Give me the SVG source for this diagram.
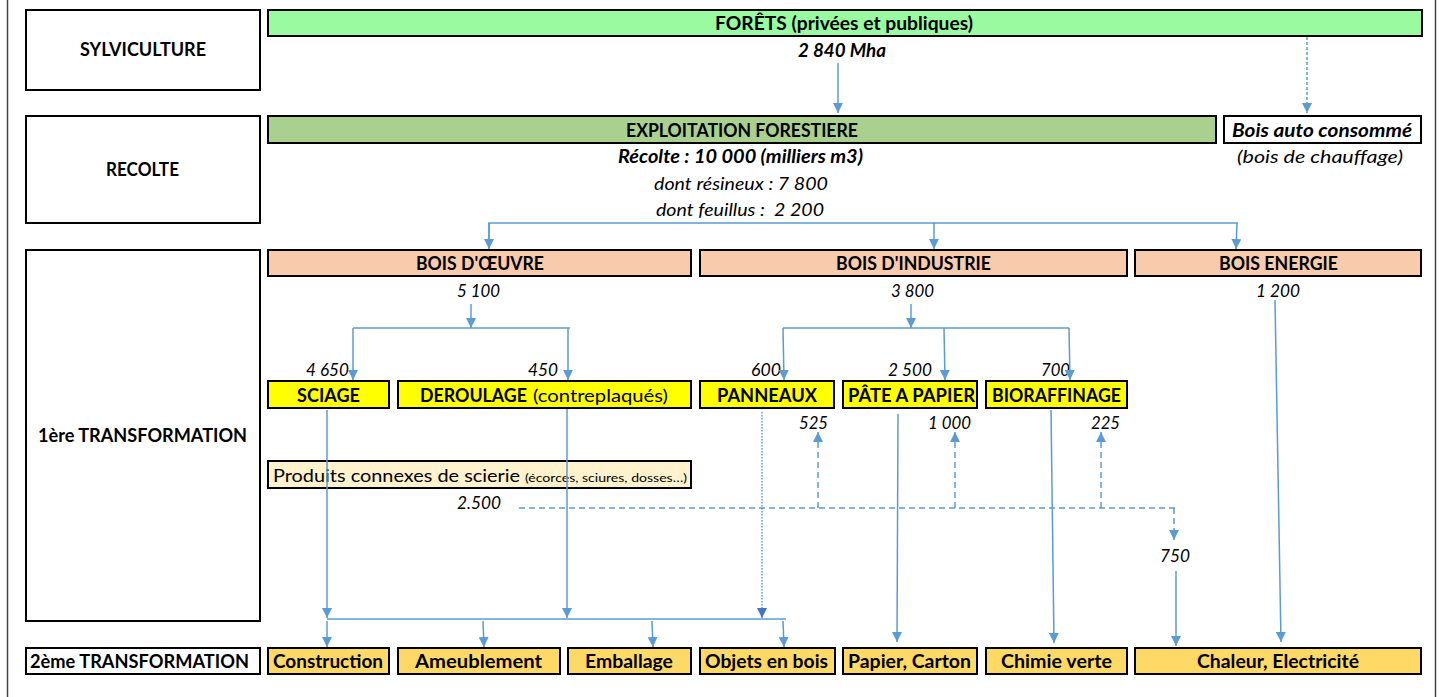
<svg xmlns="http://www.w3.org/2000/svg" width="1442" height="697" viewBox="0 0 1442 697">
<style>
text{font-family:Lato,"Open Sans","Liberation Sans",sans-serif;fill:#000;font-size:18px;}
.b{font-weight:bold;}
.bi{font-weight:bold;font-style:italic;}
.i{font-style:italic;}
.s{font-size:11px;}
.box{stroke:#000;stroke-width:2;}
.w{fill:#fff;}
.g1{fill:#99FA9F;}
.g2{fill:#A9D08E;}
.o{fill:#F8CBAD;}
.y{fill:#FFFF00;}
.c{fill:#FFF2CC;}
.d{fill:#FFD966;}
.ln{stroke:#5B9BD5;stroke-width:1.5;fill:none;}
.ar{marker-end:url(#ah);}
.da{stroke-dasharray:6 4;}
.dt{stroke-dasharray:1.5 1.5;}
</style>
<defs>
<marker id="ah" markerUnits="userSpaceOnUse" markerWidth="11" markerHeight="10" refX="10" refY="5" orient="auto"><path d="M0,0 L10,5 L0,10 z" fill="#5B9BD5"/></marker>
<marker id="ah2" markerUnits="userSpaceOnUse" markerWidth="11" markerHeight="10" refX="10" refY="5" orient="auto"><path d="M0,0 L10,5 L0,10 z" fill="#4472C4"/></marker>
</defs>
<rect width="1442" height="697" fill="#fff"/>
<line x1="7.5" y1="0" x2="7.5" y2="697" stroke="#444" stroke-width="1.5"/>
<line x1="1435.5" y1="0" x2="1435.5" y2="697" stroke="#444" stroke-width="1.5"/>

<g id="lbl-sylviculture"><rect class="box w" x="26" y="10" width="234" height="80"/><text class="b" x="80" y="56" textLength="126" lengthAdjust="spacingAndGlyphs">SYLVICULTURE</text></g>
<g id="lbl-recolte"><rect class="box w" x="26" y="116" width="234" height="107"/><text class="b" x="106" y="176" textLength="73" lengthAdjust="spacingAndGlyphs">RECOLTE</text></g>
<g id="lbl-1ere"><rect class="box w" x="26" y="250" width="234" height="371"/><text class="b" x="38" y="442" textLength="209" lengthAdjust="spacingAndGlyphs">1ère TRANSFORMATION</text></g>
<g id="lbl-2eme"><rect class="box w" x="26" y="648" width="234" height="26"/><text class="b" x="30" y="668" textLength="219" lengthAdjust="spacingAndGlyphs">2ème TRANSFORMATION</text></g>

<g id="forets"><rect class="box g1" x="268" y="10" width="1154" height="26"/><text class="b" x="715" y="30" textLength="258" lengthAdjust="spacingAndGlyphs">FORÊTS (privées et publiques)</text><text class="bi" x="798" y="57" textLength="88" lengthAdjust="spacingAndGlyphs">2 840 Mha</text></g>
<g id="exploitation"><rect class="box g2" x="268" y="116" width="948" height="27"/><text class="b" x="626" y="137" textLength="232" lengthAdjust="spacingAndGlyphs">EXPLOITATION FORESTIERE</text>
<text class="bi" x="618" y="163" textLength="245" lengthAdjust="spacingAndGlyphs">Récolte : 10 000 (milliers m3)</text>
<text class="i" x="654" y="190" textLength="174" lengthAdjust="spacingAndGlyphs">dont résineux : 7 800</text>
<text class="i" x="656" y="216" textLength="168" lengthAdjust="spacingAndGlyphs" xml:space="preserve">dont feuillus :  2 200</text></g>
<g id="bois-auto"><rect class="box w" x="1224" y="116" width="197" height="27"/><text class="bi" x="1232" y="137" textLength="180" lengthAdjust="spacingAndGlyphs">Bois auto consommé</text><text class="i" x="1237" y="163" textLength="166" lengthAdjust="spacingAndGlyphs">(bois de chauffage)</text></g>

<g id="bois-oeuvre"><rect class="box o" x="268" y="250" width="423" height="26"/><text class="b" x="416" y="270" textLength="128" lengthAdjust="spacingAndGlyphs">BOIS D'ŒUVRE</text><text class="i" x="457" y="297" textLength="43" lengthAdjust="spacingAndGlyphs">5 100</text></g>
<g id="bois-industrie"><rect class="box o" x="700" y="250" width="427" height="26"/><text class="b" x="836" y="270" textLength="155" lengthAdjust="spacingAndGlyphs">BOIS D'INDUSTRIE</text><text class="i" x="891" y="297" textLength="43" lengthAdjust="spacingAndGlyphs">3 800</text></g>
<g id="bois-energie"><rect class="box o" x="1135" y="250" width="286" height="26"/><text class="b" x="1219" y="270" textLength="119" lengthAdjust="spacingAndGlyphs">BOIS ENERGIE</text><text class="i" x="1256" y="297" textLength="44" lengthAdjust="spacingAndGlyphs">1 200</text></g>

<g id="sciage"><rect class="box y" x="268" y="381" width="121" height="27"/><text class="b" x="297" y="402" textLength="63" lengthAdjust="spacingAndGlyphs">SCIAGE</text><text class="i" x="306" y="376" textLength="43" lengthAdjust="spacingAndGlyphs">4 650</text></g>
<g id="deroulage"><rect class="box y" x="398" y="381" width="293" height="27"/><text class="b" x="420" y="402" textLength="107" lengthAdjust="spacingAndGlyphs">DEROULAGE</text><text x="533" y="402" textLength="135" lengthAdjust="spacingAndGlyphs">(contreplaqués)</text><text class="i" x="528" y="376" textLength="30" lengthAdjust="spacingAndGlyphs">450</text></g>
<g id="panneaux"><rect class="box y" x="700" y="381" width="134" height="27"/><text class="b" x="717" y="402" textLength="100" lengthAdjust="spacingAndGlyphs">PANNEAUX</text><text class="i" x="751" y="376" textLength="30" lengthAdjust="spacingAndGlyphs">600</text><text class="i" x="799" y="429" textLength="29" lengthAdjust="spacingAndGlyphs">525</text></g>
<g id="pate"><rect class="box y" x="843" y="381" width="134" height="27"/><text class="b" x="848" y="402" textLength="127" lengthAdjust="spacingAndGlyphs">PÂTE A PAPIER</text><text class="i" x="888" y="376" textLength="44" lengthAdjust="spacingAndGlyphs">2 500</text><text class="i" x="928" y="429" textLength="43" lengthAdjust="spacingAndGlyphs">1 000</text></g>
<g id="bioraffinage"><rect class="box y" x="986" y="381" width="141" height="27"/><text class="b" x="992" y="402" textLength="129" lengthAdjust="spacingAndGlyphs">BIORAFFINAGE</text><text class="i" x="1041" y="376" textLength="29" lengthAdjust="spacingAndGlyphs">700</text><text class="i" x="1091" y="429" textLength="29" lengthAdjust="spacingAndGlyphs">225</text></g>

<g id="produits-connexes"><rect class="box c" x="268" y="461" width="423" height="27"/><text x="273" y="482" textLength="247" lengthAdjust="spacingAndGlyphs">Produits connexes de scierie</text><text class="s" x="525" y="482" textLength="162" lengthAdjust="spacingAndGlyphs">(écorces, sciures, dosses…)</text><text class="i" x="457" y="509" textLength="44" lengthAdjust="spacingAndGlyphs">2.500</text></g>
<g id="chaleur-750"><text class="i" x="1160" y="562" textLength="30" lengthAdjust="spacingAndGlyphs">750</text></g>

<g id="construction"><rect class="box d" x="268" y="648" width="121" height="26"/><text class="b" x="273" y="668" textLength="110" lengthAdjust="spacingAndGlyphs">Construction</text></g>
<g id="ameublement"><rect class="box d" x="398" y="648" width="162" height="26"/><text class="b" x="415" y="668" textLength="127" lengthAdjust="spacingAndGlyphs">Ameublement</text></g>
<g id="emballage"><rect class="box d" x="568" y="648" width="123" height="26"/><text class="b" x="585" y="668" textLength="88" lengthAdjust="spacingAndGlyphs">Emballage</text></g>
<g id="objets"><rect class="box d" x="700" y="648" width="135" height="26"/><text class="b" x="705" y="668" textLength="123" lengthAdjust="spacingAndGlyphs">Objets en bois</text></g>
<g id="papier"><rect class="box d" x="843" y="648" width="134" height="26"/><text class="b" x="848" y="668" textLength="123" lengthAdjust="spacingAndGlyphs">Papier, Carton</text></g>
<g id="chimie"><rect class="box d" x="986" y="648" width="141" height="26"/><text class="b" x="1001" y="668" textLength="111" lengthAdjust="spacingAndGlyphs">Chimie verte</text></g>
<g id="chaleur"><rect class="box d" x="1135" y="648" width="286" height="26"/><text class="b" x="1197" y="668" textLength="162" lengthAdjust="spacingAndGlyphs">Chaleur, Electricité</text></g>

<g id="connectors">
<line class="ln ar" x1="838" y1="63" x2="838" y2="113"/>
<line class="ln ar" x1="1307" y1="37" x2="1307" y2="113" stroke-dasharray="3 2"/>
<polyline class="ln" points="489,248 489,223 1238,223"/>
<line class="ln ar" x1="489" y1="223" x2="489" y2="249"/>
<line class="ln ar" x1="934" y1="223" x2="934" y2="249"/>
<line class="ln ar" x1="1237" y1="223" x2="1236" y2="249"/>
<line class="ln ar" x1="471" y1="304" x2="471" y2="328"/>
<polyline class="ln" points="353,328 570,328"/>
<line class="ln ar" x1="353" y1="328" x2="353" y2="380"/>
<line class="ln ar" x1="568" y1="328" x2="568" y2="380"/>
<line class="ln ar" x1="911" y1="304" x2="911" y2="328"/>
<polyline class="ln" points="783,328 1069,328"/>
<line class="ln ar" x1="783" y1="328" x2="784" y2="380"/>
<line class="ln ar" x1="944" y1="328" x2="945" y2="380"/>
<line class="ln ar" x1="1069" y1="328" x2="1070" y2="380"/>
<line class="ln ar" x1="327" y1="410" x2="327" y2="618"/>
<line class="ln ar" x1="567" y1="409" x2="567" y2="618"/>
<line class="ln dt" x1="762" y1="412" x2="762" y2="610"/>
<line class="ln" x1="762" y1="608" x2="762" y2="618" marker-end="url(#ah2)"/>
<line class="ln" x1="327" y1="619" x2="786" y2="619"/>
<line class="ln ar" x1="327" y1="621" x2="327" y2="647"/>
<line class="ln ar" x1="483" y1="621" x2="484" y2="647"/>
<line class="ln ar" x1="652" y1="621" x2="653" y2="647"/>
<line class="ln ar" x1="783" y1="621" x2="784" y2="647"/>
<line class="ln ar" x1="898" y1="414" x2="897" y2="642"/>
<line class="ln ar" x1="1051" y1="410" x2="1054" y2="643"/>
<line class="ln ar" x1="1275" y1="300" x2="1281" y2="642"/>
<line class="ln ar" x1="1176" y1="571" x2="1176" y2="646"/>
<line class="ln da" x1="519" y1="508" x2="1175" y2="508"/>
<line class="ln da ar" x1="818" y1="508" x2="818" y2="432"/>
<line class="ln da ar" x1="955" y1="508" x2="955" y2="432"/>
<line class="ln da ar" x1="1101" y1="508" x2="1101" y2="432"/>
<line class="ln da ar" x1="1174" y1="508" x2="1174" y2="540"/>
</g>
</svg>
